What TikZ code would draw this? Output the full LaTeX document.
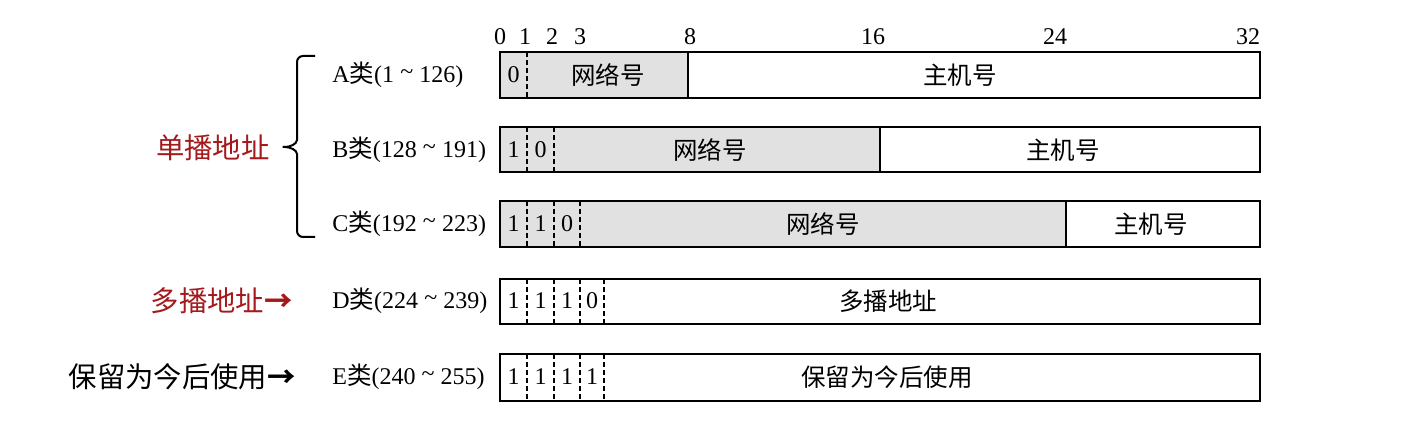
\documentclass[tikz,border=0pt]{standalone}
\usepackage{fontspec}
\usepackage{tikz}
\usepackage{xcolor}
\setmainfont{Liberation Serif}
\newfontfamily\cjk{Noto Sans CJK SC}[Scale=1.02]
\usetikzlibrary{positioning}
\definecolor{castred}{HTML}{A3191C}
\definecolor{netgray}{HTML}{E1E1E1}
\newcommand{\lei}{{\cjk 类}}
\newcommand{\dao}{\hbox to 1.05em{\hss\raisebox{.25ex}{\textasciitilde}\hss}}
\newcommand{\netno}{{\cjk 网络号}}
\newcommand{\hostno}{{\cjk 主机号}}
\newcommand{\jt}{{\cjk\bfseries →}}

\begin{document}
\begin{tikzpicture}[
    x=0.5pt, y=-0.5pt,
    every node/.style={font=\fontsize{12}{14}\selectfont, inner sep=1pt},
    bar/.style={draw, line width=1.1pt},
    net/.style={fill=netgray},
    sep/.style={line width=0.7pt},
    bitsep/.style={line width=0.7pt, dash pattern=on 2.5pt off 1.5pt},
    cls/.style={anchor=west},
    kind/.style={anchor=east, font=\fontsize{13.9}{16}\selectfont}
]
\useasboundingbox (0,0) rectangle (1416,432);

% Bit positions
\foreach \n/\x in {0/500,1/525,2/552,3/580,8/690,16/873,24/1055,32/1248}
    \node (b\n) at (\x,37) {\n};

% Class A
\fill[net] (500,52) rectangle (688,98);
\draw[bitsep] (527,52) -- (527,98);
\draw[sep] (688,52) -- (688,98);
\draw[bar] (500,52) rectangle (1260,98);
\node (a0) at (513.5,75) {0};
\node (anet) at (608,75) {\netno};
\node (ahost) at (960,75) {\hostno};
\node[cls] (A) at (330,75) {A\lei(1\dao126)};

% Class B
\fill[net] (500,127) rectangle (880,172);
\draw[bitsep] (527,127) -- (527,172);
\draw[bitsep] (554,127) -- (554,172);
\draw[sep] (880,127) -- (880,172);
\draw[bar] (500,127) rectangle (1260,172);
\node (b1a) at (513.5,150) {1};
\node (b0a) at (540.5,150) {0};
\node (bnet) at (710,150) {\netno};
\node (bhost) at (1063,150) {\hostno};
\node[cls] (B) at (330,150) {B\lei(128\dao191)};

% Class C
\fill[net] (500,201) rectangle (1066,247);
\foreach \x in {527,554,580}
    \draw[bitsep] (\x,201) -- (\x,247);
\draw[sep] (1066,201) -- (1066,247);
\draw[bar] (500,201) rectangle (1260,247);
\node (c1a) at (513.5,224) {1};
\node (c1b) at (540.5,224) {1};
\node (c0) at (567,224) {0};
\node (cnet) at (823,224) {\netno};
\node (chost) at (1151,224) {\hostno};
\node[cls] (C) at (330,224) {C\lei(192\dao223)};

% Class D
\foreach \x in {527,554,580,604}
    \draw[bitsep] (\x,279) -- (\x,324);
\draw[bar] (500,279) rectangle (1260,324);
\node (d1a) at (513.5,301) {1};
\node (d1b) at (540.5,301) {1};
\node (d1c) at (567,301) {1};
\node (d0) at (592,301) {0};
\node (dmc) at (888,301) {\cjk 多播地址};
\node[cls] (D) at (330,301) {D\lei(224\dao239)};

% Class E
\foreach \x in {527,554,580,604}
    \draw[bitsep] (\x,354) -- (\x,401);
\draw[bar] (500,354) rectangle (1260,401);
\node (e1a) at (513.5,377) {1};
\node (e1b) at (540.5,377) {1};
\node (e1c) at (567,377) {1};
\node (e1d) at (592,377) {1};
\node (eres) at (887,377) {\cjk 保留为今后使用};
\node[cls] (E) at (330,377) {E\lei(240\dao255)};

% Brace and kinds
\draw[line width=1pt, rounded corners=3pt] (315,56) -- (297,56) -- (297,134)
    .. controls (297,144) and (290,147) .. (279,147)
    .. controls (290,147) and (297,150) .. (297,160) -- (297,237) -- (315,237);
\node[kind, text=castred] (uni) at (272,148) {\cjk 单播地址};
\node[kind, text=castred] (multi) at (295,301) {\cjk 多播地址\jt};
\node[kind] (resv) at (298,377) {\cjk 保留为今后使用\jt};
\end{tikzpicture}
\end{document}
